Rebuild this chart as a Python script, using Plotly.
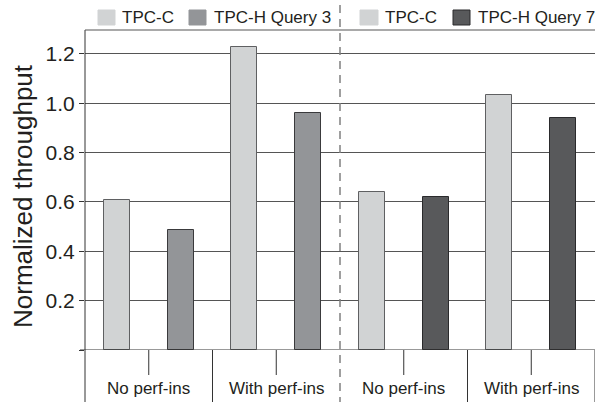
import plotly.graph_objects as go

# Data
groups = ["No perf-ins", "With perf-ins", "No perf-ins", "With perf-ins"]
tpcc_left = [0.61, 1.23]
tpch_q3 = [0.485, 0.96]
tpcc_right = [0.64, 1.035]
tpch_q7 = [0.62, 0.94]
legend_names = ["TPC-C", "TPC-H Query 3", "TPC-C", "TPC-H Query 7"]
y_ticks = [0, 0.2, 0.4, 0.6, 0.8, 1.0, 1.2]
y_tick_text = ["", "0.2", "0.4", "0.6", "0.8", "1.0", "1.2"]

C_LIGHT = "#d1d3d4"
C_MID = "#939598"
C_DARK = "#58595b"
TXT = "#231f20"
FONT = "Liberation Sans, Arial, sans-serif"

W, H = 595, 402
ML, MR, MT, MB = 85, 0, 30, 52
PW, PH = W - ML - MR, H - MT - MB

def px_x(px):
    return (px - ML) / PW

def px_y(py):
    return (H - MB - py) / PH

fig = go.Figure()
series = [
    (tpcc_left, [0, 2], C_LIGHT, "#5f6062"),
    (tpch_q3, [1, 3], C_MID, "#3a3a3c"),
    (tpcc_right, [4, 6], C_LIGHT, "#5f6062"),
    (tpch_q7, [5, 7], C_DARK, "#2a2a2c"),
]
for (vals, xs, col, lc), name in zip(series, legend_names):
    fig.add_trace(go.Bar(x=xs, y=vals, name=name, width=0.41,
                         marker=dict(color=col, line=dict(color=lc, width=1)),
                         showlegend=False, hoverinfo="skip"))

shapes = []
# category separators and mid ticks below axis
for xv in [1.5, 5.5, 7.5]:
    shapes.append(dict(type="line", xref="x", yref="paper", x0=xv, x1=xv,
                       y0=0, y1=px_y(402), line=dict(color="#333", width=1)))
for xv in [0.5, 2.5, 4.5, 6.5]:
    shapes.append(dict(type="line", xref="x", yref="paper", x0=xv, x1=xv,
                       y0=0, y1=px_y(375), line=dict(color="#333", width=1)))
# y axis line extended
shapes.append(dict(type="line", xref="paper", yref="paper", x0=0, x1=0,
                   y0=1, y1=px_y(402), line=dict(color="#333", width=1)))
# top border
shapes.append(dict(type="line", xref="paper", yref="paper", x0=0, x1=1,
                   y0=1, y1=1, line=dict(color="#555", width=1)))
# zero line with left tick
shapes.append(dict(type="line", xref="paper", yref="y", x0=px_x(80), x1=1,
                   y0=0, y1=0, line=dict(color="#333", width=1)))
# dashed divider
shapes.append(dict(type="line", xref="x", yref="paper", x0=3.5, x1=3.5,
                   y0=px_y(5), y1=px_y(402),
                   line=dict(color="#808080", width=1.5, dash="8px,6px")))

# manual legend
leg = [
    (98, 115, C_LIGHT, C_LIGHT, 120, legend_names[0]),
    (189, 206, C_MID, C_MID, 212, legend_names[1]),
    (360, 378, C_LIGHT, C_LIGHT, 383, legend_names[2]),
    (453, 470, C_DARK, "#2a2a2c", 476, legend_names[3]),
]
annotations = []
for x0, x1, fc, lc, tx, name in leg:
    shapes.append(dict(type="rect", xref="paper", yref="paper",
                       x0=px_x(x0), x1=px_x(x1), y0=px_y(25), y1=px_y(10),
                       fillcolor=fc, line=dict(color=lc, width=1)))
    annotations.append(dict(xref="paper", yref="paper", x=px_x(tx), y=px_y(18),
                            text=name, showarrow=False, xanchor="left",
                            yanchor="middle", font=dict(size=17, color=TXT, family=FONT)))

for i, g in enumerate(groups):
    annotations.append(dict(xref="x", yref="paper", x=2 * i + 0.5, y=px_y(388),
                            text=g, showarrow=False, xanchor="center",
                            yanchor="middle", font=dict(size=17, color=TXT, family=FONT)))

annotations.append(dict(xref="paper", yref="paper", x=px_x(23), y=px_y(196),
                        text="Normalized throughput", textangle=-90, showarrow=False,
                        xanchor="center", yanchor="middle",
                        font=dict(size=26, color=TXT, family=FONT)))

fig.update_layout(
    width=W, height=H,
    margin=dict(l=ML, r=MR, t=MT, b=MB),
    plot_bgcolor="white", paper_bgcolor="white",
    shapes=shapes, annotations=annotations,
    bargap=0, showlegend=False,
    font=dict(family=FONT, color=TXT),
)
fig.update_xaxes(range=[-0.5, 7.5], showticklabels=False, showgrid=False,
                 zeroline=False, ticks="", showline=False)
fig.update_yaxes(range=[0, 1.297], tickvals=y_ticks, ticktext=y_tick_text,
                 showgrid=True, gridcolor="#555", gridwidth=1, zeroline=False,
                 ticks="outside", ticklen=5, tickcolor="#333", showline=False,
                 tickfont=dict(size=21, color=TXT, family=FONT))

fig.write_html("out.html", config={"displayModeBar": False},
               post_script="document.body.style.margin='0';document.body.style.padding='0';")
